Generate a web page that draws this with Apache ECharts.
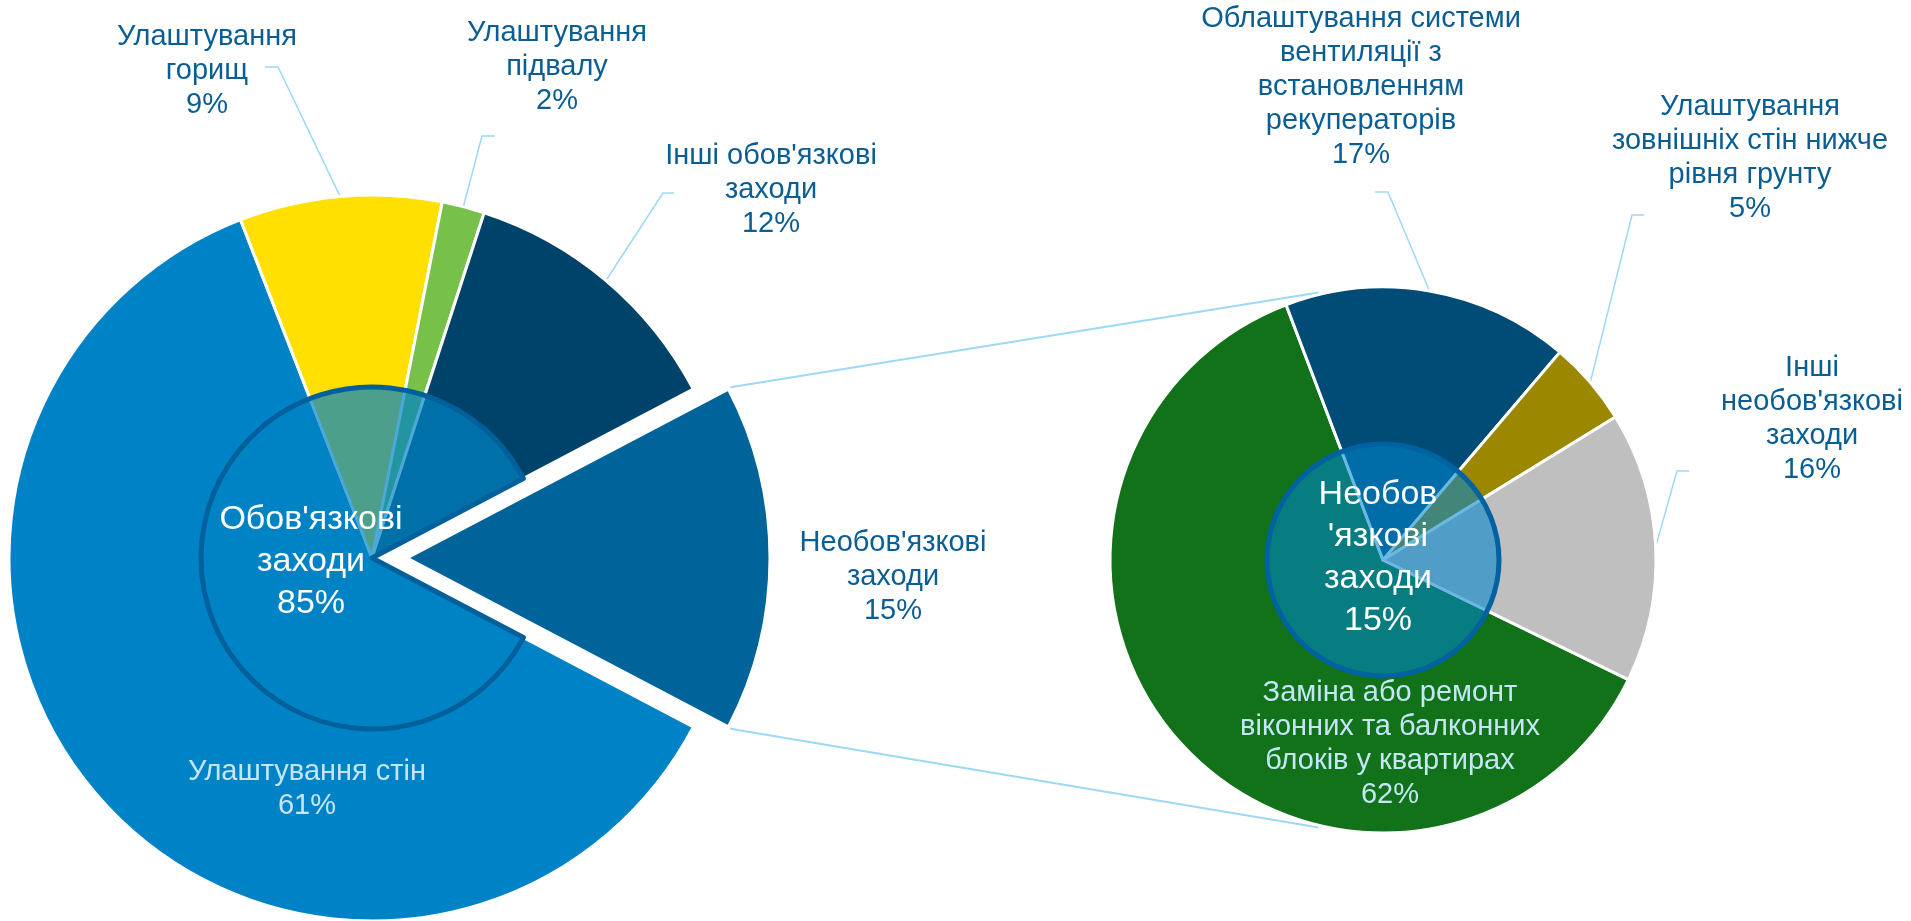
<!DOCTYPE html>
<html>
<head>
<meta charset="utf-8">
<script src="https://cdn.jsdelivr.net/npm/echarts@6/dist/echarts.min.js"></script>
<style>
    html, body { margin: 0; padding: 0; background: #fff; }
    #main { width: 1911px; height: 921px; }
</style>
</head>
<body>
<div id="main"></div>
<script>
    // дані
    const mainNames = ['Улаштування стін', 'Улаштування горищ', 'Улаштування підвалу', "Інші обов'язкові заходи", "Необов'язкові заходи"];
    const mainValues = [61.4, 9.0, 1.9, 12.3, 15.4];
    const mainTotalName = "Обов'язкові заходи";
    const subNames = ['Заміна або ремонт віконних та балконних блоків у квартирах', 'Облаштування системи вентиляції з встановленням рекуператорів', 'Улаштування зовнішніх стін нижче рівня грунту', "Інші необов'язкові заходи"];
    const subValues = [62, 17, 5, 16];

    // перенос рядків у підписах
    const mainWrap = ['Улаштування стін', 'Улаштування\nгорищ', 'Улаштування\nпідвалу', "Інші обов'язкові\nзаходи", "Необов'язкові\nзаходи"];
    const subWrap = ['Заміна або ремонт\nвіконних та балконних\nблоків у квартирах', 'Облаштування системи\nвентиляції з\nвстановленням\nрекуператорів', 'Улаштування\nзовнішніх стін нижче\nрівня грунту', "Інші\nнеобов'язкові\nзаходи"];

    // стилі / розміщення
    const mainColors = ['#0083C6', '#FFE000', '#77C04A', '#00436A', '#00639A'];
    const subColors = ['#117219', '#004C76', '#9C8800', '#BFBFBF'];
    const L = {cx: 372, cy: 558, r: 363, inner: 171, explode: 35};
    const R = {cx: 1383, cy: 560, r: 273, inner: 116, start: 334};
    const seriesLineAngle = 103.5;
    const font = "'Liberation Sans', Arial, sans-serif";
    const textBlue = '#0A5E93';
    const lineBlue = '#9DD8F7';
    const clear = 'rgba(0,0,0,0)';

    const mainLabelPos = [
        {x: 307, y: 789},
        {x: 207, y: 71, line: [[278, 67], [265, 67]]},
        {x: 557, y: 67, line: [[482, 136], [495, 136]]},
        {x: 771, y: 190, line: [[663, 193], [674, 193]]},
        {x: 893, y: 577}
    ];
    const subLabelPos = [
        {x: 1390, y: 744},
        {x: 1361, y: 87, line: [[1388, 192], [1375, 192]]},
        {x: 1750, y: 158, line: [[1632, 215], [1644, 215]]},
        {x: 1812, y: 419, line: [[1677, 471], [1689, 471]]}
    ];

    const sum = arr => arr.reduce((a, b) => a + b, 0);
    const mainTotal = sum(mainValues);
    const subTotal = sum(subValues);
    const last = mainValues.length - 1;
    const mainStart = 360 - mainValues[last] / mainTotal * 180;

    function midAngles(values, start) {
        const total = sum(values);
        let a = start;
        return values.map(v => {
            const span = v / total * 360;
            const m = a - span / 2;
            a -= span;
            return m;
        });
    }
    function polar(c, r, deg) {
        const t = deg * Math.PI / 180;
        return [c.cx + r * Math.cos(t), c.cy - r * Math.sin(t)];
    }
    const mainMid = midAngles(mainValues, mainStart);
    const subMid = midAngles(subValues, R.start);

    function layoutFor(posList, mids, geo) {
        return function (p) {
            const pos = posList[p.dataIndex];
            const out = {x: pos.x, y: pos.y, align: 'center', verticalAlign: 'middle'};
            if (pos.line) {
                out.labelLinePoints = [polar(geo, geo.r, mids[p.dataIndex]), pos.line[0], pos.line[1]];
            }
            return out;
        };
    }

    const pct = (v, total) => Math.round(v / total * 100) + '%';

    const outerLabel = {
        show: true,
        fontFamily: font,
        fontSize: 29,
        lineHeight: 34,
        color: textBlue,
        align: 'center'
    };
    const labelLine = {show: true, smooth: false, lineStyle: {color: lineBlue, width: 1.5}};
    const hidden = {itemStyle: {color: clear, borderWidth: 0}, label: {show: false}, labelLine: {show: false}};

    // основна діаграма (без винесеного сектора)
    const mainData = mainValues.map((v, i) => {
        if (i === last) return Object.assign({value: v, name: mainNames[i]}, hidden);
        const item = {value: v, name: mainNames[i], itemStyle: {color: mainColors[i]}};
        if (i === 0) {
            item.label = {color: '#C4E6F6'};
            item.labelLine = {show: false};
        }
        return item;
    });
    // винесений сектор
    const explodedData = mainValues.map((v, i) => {
        if (i !== last) return Object.assign({value: v, name: mainNames[i]}, hidden);
        return {value: v, name: mainNames[i], itemStyle: {color: mainColors[i]}, labelLine: {show: false}};
    });

    const subData = subValues.map((v, i) => {
        const item = {value: v, name: subNames[i], itemStyle: {color: subColors[i]}};
        if (i === 0) {
            item.label = {color: '#C4E6F6'};
            item.labelLine = {show: false};
        }
        return item;
    });

    // лінії між діаграмами
    const half = mainValues[last] / mainTotal * 180;
    const exploded = {cx: L.cx + L.explode, cy: L.cy, r: L.r};
    const topStart = polar(exploded, L.r, half);
    const botStart = polar(exploded, L.r, -half);
    const topEnd = polar(R, R.r + 2, seriesLineAngle);
    const botEnd = polar(R, R.r + 2, -seriesLineAngle);

    const chart = echarts.init(document.getElementById('main'));
    const option = {
        animation: false,
        graphic: [
            {type: 'line', z: 1, shape: {x1: topStart[0] + 2, y1: topStart[1] - 2, x2: topEnd[0], y2: topEnd[1]}, style: {stroke: lineBlue, lineWidth: 2}},
            {type: 'line', z: 1, shape: {x1: botStart[0] + 2, y1: botStart[1] + 2, x2: botEnd[0], y2: botEnd[1]}, style: {stroke: lineBlue, lineWidth: 2}}
        ],
        series: [
            {
                type: 'pie',
                center: [L.cx, L.cy],
                radius: [0, L.r],
                startAngle: mainStart,
                clockwise: true,
                avoidLabelOverlap: false,
                silent: true,
                itemStyle: {borderColor: '#fff', borderWidth: 3},
                emphasis: {disabled: true},
                label: Object.assign({}, outerLabel, {
                    formatter: p => mainWrap[p.dataIndex] + '\n' + pct(p.value, mainTotal)
                }),
                labelLine: labelLine,
                labelLayout: layoutFor(mainLabelPos, mainMid, L),
                data: mainData
            },
            {
                type: 'pie',
                center: [exploded.cx, exploded.cy],
                radius: [0, L.r],
                startAngle: mainStart,
                clockwise: true,
                avoidLabelOverlap: false,
                silent: true,
                itemStyle: {borderColor: '#fff', borderWidth: 3},
                emphasis: {disabled: true},
                label: Object.assign({}, outerLabel, {
                    formatter: p => mainWrap[p.dataIndex] + '\n' + pct(p.value, mainTotal)
                }),
                labelLine: {show: false},
                labelLayout: layoutFor(mainLabelPos, mainMid, exploded),
                data: explodedData
            },
            {
                type: 'pie',
                z: 3,
                center: [L.cx, L.cy],
                radius: [0, L.inner],
                startAngle: mainStart,
                silent: true,
                avoidLabelOverlap: false,
                emphasis: {disabled: true},
                label: {
                    show: true,
                    position: 'inside',
                    fontFamily: font,
                    fontSize: 34,
                    lineHeight: 42,
                    color: '#fff',
                    formatter: () => "Обов'язкові\nзаходи\n" + pct(sum(mainValues.slice(0, last)), mainTotal)
                },
                labelLine: {show: false},
                labelLayout: () => ({x: 311, y: 562, align: 'center', verticalAlign: 'middle'}),
                data: [
                    {
                        value: sum(mainValues.slice(0, last)),
                        name: mainTotalName,
                        itemStyle: {color: 'rgba(0,131,196,0.7)', borderColor: '#00609B', borderWidth: 5}
                    },
                    Object.assign({value: mainValues[last], name: mainNames[last]}, hidden)
                ]
            },
            {
                type: 'pie',
                center: [R.cx, R.cy],
                radius: [0, R.r],
                startAngle: R.start,
                clockwise: true,
                avoidLabelOverlap: false,
                silent: true,
                itemStyle: {borderColor: '#fff', borderWidth: 3},
                emphasis: {disabled: true},
                label: Object.assign({}, outerLabel, {
                    formatter: p => subWrap[p.dataIndex] + '\n' + pct(p.value, subTotal)
                }),
                labelLine: labelLine,
                labelLayout: layoutFor(subLabelPos, subMid, R),
                data: subData
            },
            {
                type: 'pie',
                z: 3,
                center: [R.cx, R.cy],
                radius: [0, R.inner],
                silent: true,
                avoidLabelOverlap: false,
                emphasis: {disabled: true},
                label: {
                    show: true,
                    position: 'inside',
                    fontFamily: font,
                    fontSize: 34,
                    lineHeight: 42,
                    color: '#fff',
                    formatter: () => "Необов\n'язкові\nзаходи\n" + pct(mainValues[last], mainTotal)
                },
                labelLine: {show: false},
                labelLayout: () => ({x: 1378, y: 558, align: 'center', verticalAlign: 'middle'}),
                data: [
                    {
                        value: mainValues[last],
                        name: mainNames[last],
                        itemStyle: {color: 'rgba(0,133,207,0.58)', borderColor: '#0062A0', borderWidth: 5}
                    }
                ]
            }
        ]
    };
    chart.setOption(option);
</script>
</body>
</html>
